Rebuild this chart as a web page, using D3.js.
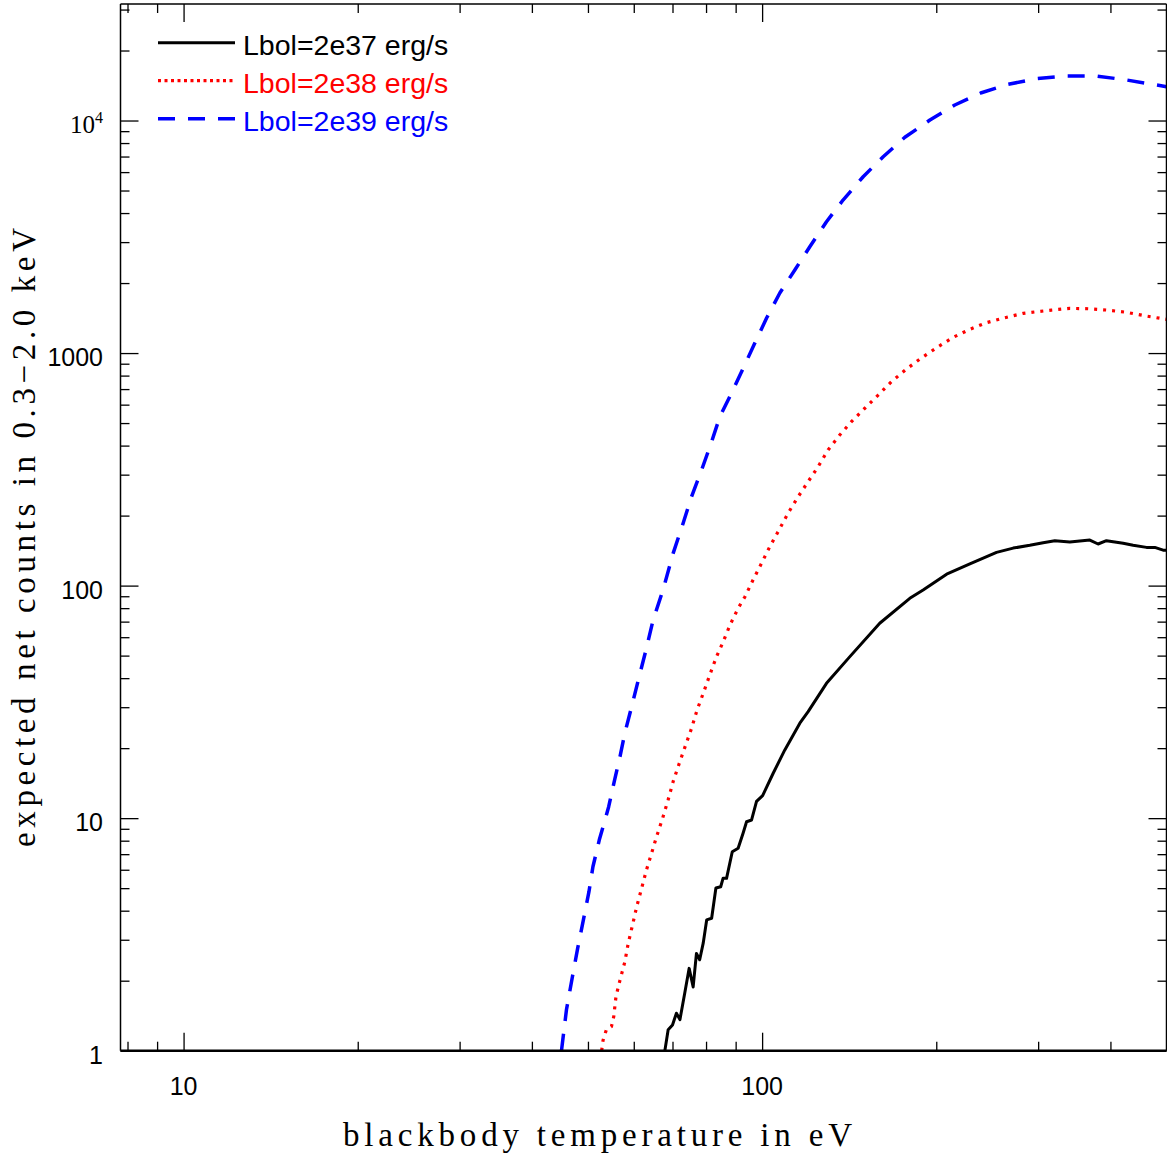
<!DOCTYPE html>
<html>
<head>
<meta charset="utf-8">
<script src="https://cdn.jsdelivr.net/npm/d3@7"></script>
<style>
  body { margin: 0; background: #fff; }
  svg { display: block; }
</style>
</head>
<body>
<div id="my_dataviz"></div>
<script>

// temperatures (eV) and expected counts
var tempLow  = [67.9, 68.8, 70.0, 71.1, 72.1, 73.5, 74.8, 76.0, 77.0, 78.0, 79.1, 80.2, 81.8, 83.2, 84.8, 85.6, 86.8, 88.8, 90.9, 92.7, 94.0, 95.9, 97.8, 100.2, 104.5, 109.4, 116.2, 120.1, 129.2, 141.8, 159.7, 180.0, 189.8, 208.4, 228.6, 254.2, 271.6, 290.2, 306.0, 320.6, 340.3, 368.5, 380.8, 393.7, 420.8, 437.8, 461.7, 477.2, 493.3, 500]
var countsLow = [1, 1.23, 1.29, 1.45, 1.36, 1.77, 2.26, 1.88, 2.62, 2.46, 2.90, 3.65, 3.71, 5.01, 5.07, 5.51, 5.51, 7.17, 7.42, 8.61, 9.65, 9.82, 11.8, 12.5, 15.6, 19.6, 25.6, 28.7, 38.0, 49.5, 68.9, 88.2, 95.7, 112, 124, 139, 145, 149, 153, 156, 154, 157, 151, 156, 152, 149, 146, 146, 142, 142]

var tempMid  = [52.8, 53.1, 53.8, 54.9, 55.4, 55.9, 56.8, 57.9, 58.7, 59.7, 60.7, 61.9, 63.1, 64.4, 65.7, 67.3, 68.8, 70.2, 71.9, 73.6, 75.5, 77.2, 79.1, 81.2, 83.4, 85.6, 88.0, 90.9, 93.4, 96.5, 99.8, 103.1, 106.9, 110.9, 115.4, 120.1, 125.0, 130.0, 136.2, 142.7, 150.5, 158.7, 167.3, 177.7, 187.4, 200.2, 213.8, 228.6, 244.2, 262.7, 282.6, 316.4, 340.3, 366.0, 393.7, 426.5, 458.5, 500]
var countsMid = [1, 1.11, 1.23, 1.27, 1.40, 1.71, 2.01, 2.41, 2.90, 3.47, 4.16, 4.99, 5.98, 7.06, 8.33, 9.99, 12.0, 14.4, 17.2, 20.3, 24.3, 29.2, 34.4, 41.3, 49.5, 57.2, 67.7, 79.9, 89.6, 106, 125, 147, 173, 205, 241, 280, 325, 383, 444, 507, 579, 660, 753, 854, 943, 1054, 1168, 1265, 1351, 1419, 1482, 1531, 1557, 1551, 1531, 1497, 1447, 1396]

var tempHigh  = [45.0, 45.9, 47.0, 48.0, 49.1, 50.2, 51.0, 52.3, 53.5, 54.3, 55.6, 56.8, 57.9, 59.5, 61.1, 63.0, 64.8, 67.4, 70.2, 73.0, 75.5, 78.6, 81.8, 84.5, 88.5, 92.1, 97.1, 101.8, 107.3, 113.9, 120.9, 129.2, 138.0, 149.5, 161.9, 176.5, 195.0, 215.3, 239.4, 266.2, 297.9, 335.8, 378.4, 426.5, 500]
var countsHigh = [1, 1.50, 2.08, 2.76, 3.65, 4.83, 6.18, 8.05, 9.82, 11.2, 14.6, 18.4, 23.2, 30.2, 39.3, 52.9, 71.1, 95.7, 138, 185, 241, 314, 416, 532, 671, 829, 1101, 1415, 1812, 2276, 2866, 3671, 4550, 5731, 6987, 8470, 10050, 11660, 13170, 14310, 15130, 15540, 15540, 14940, 13980]

var legendLabels = ['Lbol=2e37 erg/s', 'Lbol=2e38 erg/s', 'Lbol=2e39 erg/s']

var xMajor = [10, 100]
var xMinor = [8, 9, 20, 30, 40, 50, 60, 70, 80, 90, 200, 300, 400, 500]
var yMajor = [1, 10, 100, 1000, 10000]
var yMinor = [2, 3, 4, 5, 6, 7, 8, 9, 20, 30, 40, 50, 60, 70, 80, 90, 200, 300, 400, 500, 600, 700, 800, 900, 2000, 3000, 4000, 5000, 6000, 7000, 8000, 9000, 20000, 30000]

var series = [
    {name: legendLabels[0], T: tempLow,  C: countsLow},
    {name: legendLabels[1], T: tempMid,  C: countsMid},
    {name: legendLabels[2], T: tempHigh, C: countsHigh}
]
var styles = [
    {color: '#000000', width: 3,   dash: null},
    {color: '#ff0000', width: 3.2, dash: '3,6'},
    {color: '#0000ff', width: 3.5, dash: '17,13'}
]

var margin = {top: 4, right: 0.5, bottom: 106.3, left: 120.5},
    width = 1167 - margin.left - margin.right,
    height = 1157 - margin.top - margin.bottom;

var svg = d3.select("#my_dataviz")
    .append("svg")
      .attr("width", 1167)
      .attr("height", 1157)
    .append("g")
      .attr("transform", "translate(" + margin.left + "," + margin.top + ")");

var x = d3.scaleLog().domain([7.78, 500]).range([0, width])
var y = d3.scaleLog().domain([1, 31700]).range([height, 0])

var sans = "'Liberation Sans', Arial, Helvetica, sans-serif"
var serif = "'Liberation Serif', 'Times New Roman', serif"

svg.append("clipPath").attr("id", "plotclip")
    .append("rect").attr("width", width).attr("height", height)

// curves
var line = d3.line()
    .x(function(d) { return x(d[0]) })
    .y(function(d) { return y(d[1]) })

series.forEach(function(s, i) {
    var pts = s.T.map(function(t, j) { return [t, s.C[j]] })
    svg.append("path")
        .datum(pts)
        .attr("clip-path", "url(#plotclip)")
        .attr("fill", "none")
        .attr("stroke", styles[i].color)
        .attr("stroke-width", styles[i].width)
        .attr("stroke-dasharray", styles[i].dash)
        .attr("stroke-linejoin", "round")
        .attr("d", line)
})

// ticks on all four sides, pointing inwards
function ticks(axisFn, scale, values, size, transform) {
    var ax = axisFn(scale).tickValues(values).tickSize(-size).tickSizeOuter(0).tickFormat("")
    var g = svg.append("g").attr("transform", transform).call(ax)
    g.select(".domain").remove()
    g.selectAll(".tick line").attr("stroke", "#000").attr("stroke-width", 1.3)
    return g
}

ticks(d3.axisBottom, x, xMinor, 9, "translate(0," + height + ")")
ticks(d3.axisBottom, x, xMajor, 18, "translate(0," + height + ")")
ticks(d3.axisTop, x, xMinor, 9, "translate(0,0)")
ticks(d3.axisTop, x, xMajor, 18, "translate(0,0)")

ticks(d3.axisLeft, y, yMinor, 9, "translate(0,0)")
ticks(d3.axisLeft, y, yMajor, 18, "translate(0,0)")
ticks(d3.axisRight, y, yMinor, 9, "translate(" + width + ",0)")
ticks(d3.axisRight, y, yMajor, 18, "translate(" + width + ",0)")

// tick labels
svg.selectAll(".xlab")
    .data(xMajor)
    .enter()
    .append("text")
    .attr("x", function(d) { return x(d) })
    .attr("y", height + 44)
    .attr("text-anchor", "middle")
    .style("font-family", sans)
    .style("font-size", "25px")
    .text(function(d) { return d })

svg.selectAll(".ylab")
    .data(yMajor.filter(function(d) { return d < 10000 }))
    .enter()
    .append("text")
    .attr("x", -17.5)
    .attr("y", function(d) { return y(d) + 13 })
    .attr("text-anchor", "end")
    .style("font-family", sans)
    .style("font-size", "25px")
    .text(function(d) { return d })

var pow = svg.append("text")
    .attr("x", -17.5)
    .attr("y", y(10000) + 12)
    .attr("text-anchor", "end")
    .style("font-family", serif)
    .style("font-size", "25px")
pow.append("tspan").text("10")
pow.append("tspan").attr("dy", -10).style("font-size", "16px").text("4")

// frame
svg.append("line").attr("x1", 0).attr("x2", width).attr("y1", height).attr("y2", height)
    .attr("stroke", "#000").attr("stroke-width", 2.5)
svg.append("line").attr("x1", 0).attr("x2", width).attr("y1", 0).attr("y2", 0)
    .attr("stroke", "#000").attr("stroke-width", 1.5)
svg.append("line").attr("x1", 0).attr("x2", 0).attr("y1", 0).attr("y2", height)
    .attr("stroke", "#000").attr("stroke-width", 1.5)
svg.append("line").attr("x1", width).attr("x2", width).attr("y1", 0).attr("y2", height)
    .attr("stroke", "#000").attr("stroke-width", 1.5)

// axis titles
svg.append("text")
    .attr("x", 597.5 - margin.left)
    .attr("y", 1146 - margin.top)
    .attr("text-anchor", "middle")
    .attr("textLength", 509)
    .attr("lengthAdjust", "spacing")
    .style("font-family", serif)
    .style("font-size", "33px")
    .text("blackbody temperature in eV")

svg.append("text")
    .attr("transform", "translate(" + (35 - margin.left) + "," + (537.5 - margin.top) + ") rotate(-90)")
    .attr("text-anchor", "middle")
    .attr("textLength", 619)
    .attr("lengthAdjust", "spacing")
    .style("font-family", serif)
    .style("font-size", "33px")
    .text("expected net counts in 0.3\u22122.0 keV")

// legend
var leg = svg.selectAll(".legend")
    .data(series)
    .enter()
    .append("g")
    .attr("transform", function(d, i) { return "translate(" + (158 - margin.left) + "," + (42.7 + i * 38 - margin.top) + ")" })

leg.append("line")
    .attr("x1", 0).attr("x2", 77)
    .attr("stroke", function(d, i) { return styles[i].color })
    .attr("stroke-width", function(d, i) { return styles[i].width })
    .attr("stroke-dasharray", function(d, i) { return i == 1 ? '3,3.5' : styles[i].dash })

leg.append("text")
    .attr("x", 85)
    .attr("y", 12.5)
    .style("font-family", sans)
    .style("font-size", "28.5px")
    .style("fill", function(d, i) { return styles[i].color })
    .text(function(d) { return d.name })

</script>
</body>
</html>
